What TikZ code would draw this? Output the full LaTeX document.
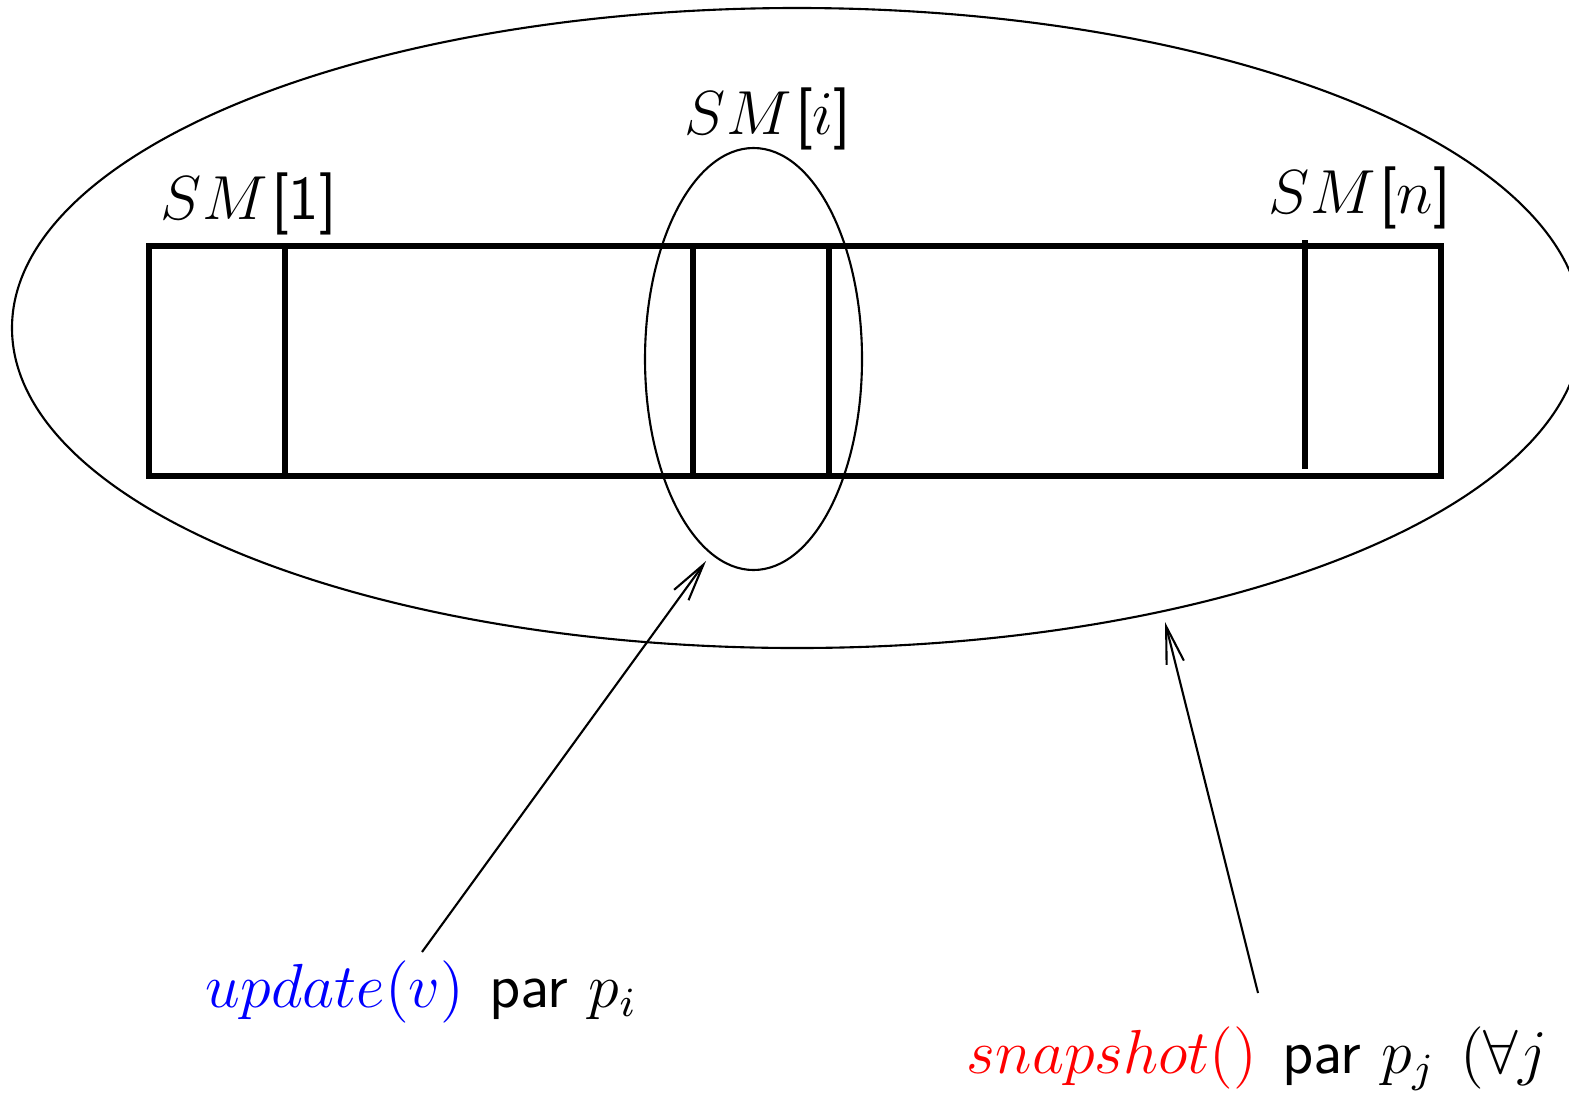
\documentclass[tikz,border=0pt]{standalone}
\usepackage{graphicx}
\usetikzlibrary{arrows.meta}
\newcommand{\gp}{\hspace{0.4em}}
\newcommand{\sg}{\hspace{0.06em}}
\newcommand{\upsz}[1]{\scalebox{1.108}{#1}}
\begin{document}
\begin{tikzpicture}[x=0.0075cm,y=-0.0075cm,
  lbl/.style={inner sep=0pt, font=\fontsize{12}{14}\selectfont},
  arr/.style={line width=0.45pt, -{Straight Barb[length=8pt,width=3.8pt]}},
  cell/.style={line width=1.3pt},
  ring/.style={line width=0.45pt}]
\useasboundingbox (0,0) rectangle (1569,1095);
\clip (0,0) rectangle (1569,1095);
% outer ellipse
\draw[ring] (797,328) ellipse [x radius=785, y radius=320];
% inner ellipse
\draw[ring] (753.5,359) ellipse [x radius=108.5, y radius=211];
% array
\draw[cell] (149,246) rectangle (1441,476);
\draw[cell] (285,246) -- (285,476);
\draw[cell] (693,246) -- (693,476);
\draw[cell] (829,246) -- (829,476);
\draw[cell] (1305,240) -- (1305,469);
% labels
\node[lbl, anchor=base west] (l1) at (160,219) {\upsz{$SM$\sg\textsf{[1]}}};
\node[lbl, anchor=base west] (li) at (684,134) {\upsz{$SM$\sg\textsf{[}$i$\textsf{]}}};
\node[lbl, anchor=base west] (ln) at (1268,213) {\upsz{$SM$\sg\textsf{[}$n$\textsf{]}}};
\node[lbl, anchor=base west] (up) at (205,1007) {\upsz{$\color{blue}update(v)$\gp\textsf{par} $p_i$}};
\node[lbl, anchor=base west] (sn) at (966,1073) {\upsz{$\color{red}snapshot()$\gp\textsf{par} $p_j$\hspace{0.4em}$(\forall j$}};
% arrows
\coordinate (a1s) at (422,952);
\coordinate (a1e) at (706,561);
\coordinate (a2s) at (1258,993);
\coordinate (a2e) at (1165,622);
\draw[arr] (a1s) -- (a1e);
\draw[arr] (a2s) -- (a2e);
\end{tikzpicture}
\end{document}
